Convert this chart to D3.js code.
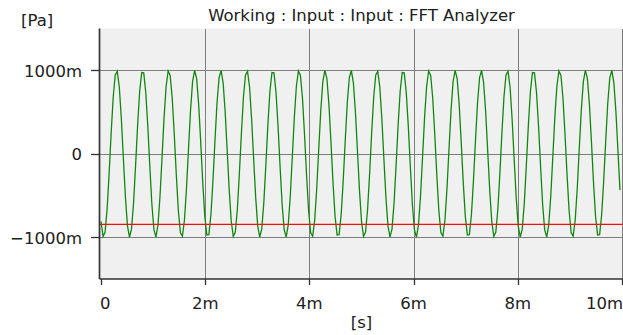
<!DOCTYPE html>
<html>
<head>
  <meta charset="utf-8">
  <title>Working : Input : Input : FFT Analyzer</title>
  <script src="https://d3js.org/d3.v7.min.js"></script>
  <style>
    body {
      margin: 0;
      background: #fff;
    }
    svg text {
      font-family: "DejaVu Sans", sans-serif;
      font-size: 16.5px;
      fill: #202020;
    }
    .grid line {
      stroke: #7d7d7d;
      stroke-width: 1px;
      shape-rendering: crispEdges;
    }
    .axis-line {
      stroke: #333;
      stroke-width: 1.7px;
    }
    .tick-mark {
      stroke: #333;
      stroke-width: 1.3px;
    }
    .signal {
      fill: none;
      stroke: #0f870f;
      stroke-width: 1.3px;
    }
    .level {
      stroke: #f01010;
      stroke-width: 1.3px;
    }
  </style>
</head>
<body>
  <div id="chart"></div>

  <script>
    // chart data
    const title = "Working : Input : Input : FFT Analyzer";
    const yUnit = "[Pa]";
    const xUnit = "[s]";
    const sampleRate = 25600; // samples per second
    const xTicks = [0, 0.002, 0.004, 0.006, 0.008, 0.010];
    const xTickLabels = ["0", "2m", "4m", "6m", "8m", "10m"];
    const yTicks = [1000, 0, -1000];          // in mPa
    const yTickLabels = ["1000m", "0", "\u22121000m"];
    const levelValue = -846;                  // red reference line, mPa

    // pressure samples in mPa
    const samples = [
      -809, -991, -938, -665, -233, 252, 679, 945, 988, 797, 419, -59, -522, -863, -999, -900,
      -588, -137, 346, 748, 972, 968, 734, 328, -156, -604, -908, -998, -853, -506, -39, 436,
      809, 991, 938, 665, 233, -252, -679, -945, -988, -797, -419, 59, 522, 863, 999, 900,
      588, 137, -346, -748, -972, -968, -734, -328, 156, 604, 908, 998, 853, 506, 39, -436,
      -809, -991, -938, -665, -233, 252, 679, 945, 988, 797, 419, -59, -522, -863, -999, -900,
      -588, -137, 346, 748, 972, 968, 734, 328, -156, -604, -908, -998, -853, -506, -39, 436,
      809, 991, 938, 665, 233, -252, -679, -945, -988, -797, -419, 59, 522, 863, 999, 900,
      588, 137, -346, -748, -972, -968, -734, -328, 156, 604, 908, 998, 853, 506, 39, -436,
      -809, -991, -938, -665, -233, 252, 679, 945, 988, 797, 419, -59, -522, -863, -999, -900,
      -588, -137, 346, 748, 972, 968, 734, 328, -156, -604, -908, -998, -853, -506, -39, 436,
      809, 991, 938, 665, 233, -252, -679, -945, -988, -797, -419, 59, 522, 863, 999, 900,
      588, 137, -346, -748, -972, -968, -734, -328, 156, 604, 908, 998, 853, 506, 39, -436,
      -809, -991, -938, -665, -233, 252, 679, 945, 988, 797, 419, -59, -522, -863, -999, -900,
      -588, -137, 346, 748, 972, 968, 734, 328, -156, -604, -908, -998, -853, -506, -39, 436,
      809, 991, 938, 665, 233, -252, -679, -945, -988, -797, -419, 59, 522, 863, 999, 900,
      588, 137, -346, -748, -972, -968, -734, -328, 156, 604, 908, 998, 853, 506, 39, -436
    ];

    // dimensions
    const W = 623, H = 335;
    const plot = { left: 99.5, right: 623, top: 28.5, bottom: 279 };

    const svg = d3.select("#chart")
      .append("svg")
      .attr("width", W)
      .attr("height", H);

    // scales
    const x = d3.scaleLinear().domain([0, 0.010]).range([101, 622]);
    const y = d3.scaleLinear().domain([-1500, 1500]).range([279, 28.5]);

    // plot background
    svg.append("rect")
      .attr("x", plot.left)
      .attr("y", plot.top)
      .attr("width", plot.right - plot.left)
      .attr("height", plot.bottom - plot.top)
      .attr("fill", "#f0f0f0");

    svg.append("clipPath")
      .attr("id", "plot-clip")
      .append("rect")
      .attr("x", plot.left)
      .attr("y", plot.top)
      .attr("width", plot.right - plot.left)
      .attr("height", plot.bottom - plot.top);

    // grid lines
    const grid = svg.append("g").attr("class", "grid");
    grid.selectAll(".v-line")
      .data(xTicks.slice(1))
      .enter()
      .append("line")
      .attr("x1", d => Math.round(x(d)) + 0.5)
      .attr("x2", d => Math.round(x(d)) + 0.5)
      .attr("y1", plot.top)
      .attr("y2", plot.bottom);

    grid.selectAll(".h-line")
      .data(yTicks)
      .enter()
      .append("line")
      .attr("x1", plot.left)
      .attr("x2", plot.right)
      .attr("y1", d => Math.round(y(d)) + 0.5)
      .attr("y2", d => Math.round(y(d)) + 0.5);

    // signal
    const line = d3.line()
      .x((d, i) => x(i / sampleRate))
      .y(d => y(d));

    const g = svg.append("g").attr("clip-path", "url(#plot-clip)");
    g.append("path")
      .datum(samples)
      .attr("class", "signal")
      .attr("d", line);

    // reference level
    g.append("line")
      .attr("class", "level")
      .attr("x1", plot.left)
      .attr("x2", plot.right)
      .attr("y1", y(levelValue))
      .attr("y2", y(levelValue));

    // axes lines
    svg.append("line")
      .attr("class", "axis-line")
      .attr("x1", plot.left).attr("x2", plot.left)
      .attr("y1", plot.top).attr("y2", plot.bottom);

    svg.append("line")
      .attr("class", "axis-line")
      .attr("x1", plot.left).attr("x2", plot.right)
      .attr("y1", plot.bottom).attr("y2", plot.bottom);

    // y ticks and labels
    svg.selectAll(".y-tick")
      .data(yTicks)
      .enter()
      .append("line")
      .attr("class", "tick-mark")
      .attr("x1", 91)
      .attr("x2", plot.left)
      .attr("y1", d => Math.round(y(d)) + 0.5)
      .attr("y2", d => Math.round(y(d)) + 0.5);

    svg.selectAll(".y-label")
      .data(yTicks)
      .enter()
      .append("text")
      .attr("x", 82)
      .attr("y", d => y(d) + 6.5)
      .attr("text-anchor", "end")
      .text((d, i) => yTickLabels[i]);

    // x ticks and labels
    svg.selectAll(".x-tick")
      .data(xTicks)
      .enter()
      .append("line")
      .attr("class", "tick-mark")
      .attr("x1", d => Math.round(x(d)) + 0.5)
      .attr("x2", d => Math.round(x(d)) + 0.5)
      .attr("y1", plot.bottom)
      .attr("y2", 285);

    svg.selectAll(".x-label")
      .data(xTicks)
      .enter()
      .append("text")
      .attr("x", (d, i) => i === 0 ? x(d) - 1 : (i === xTicks.length - 1 ? W : x(d)))
      .attr("y", 309)
      .attr("text-anchor", (d, i) => i === 0 ? "start" : (i === xTicks.length - 1 ? "end" : "middle"))
      .text((d, i) => xTickLabels[i]);

    // title and units
    svg.append("text")
      .attr("x", (x.range()[0] + x.range()[1]) / 2)
      .attr("y", 21)
      .attr("text-anchor", "middle")
      .text(title);

    svg.append("text")
      .attr("x", 21)
      .attr("y", 26)
      .text(yUnit);

    svg.append("text")
      .attr("x", (x.range()[0] + x.range()[1]) / 2)
      .attr("y", 328)
      .attr("text-anchor", "middle")
      .text(xUnit);
  </script>
</body>
</html>
